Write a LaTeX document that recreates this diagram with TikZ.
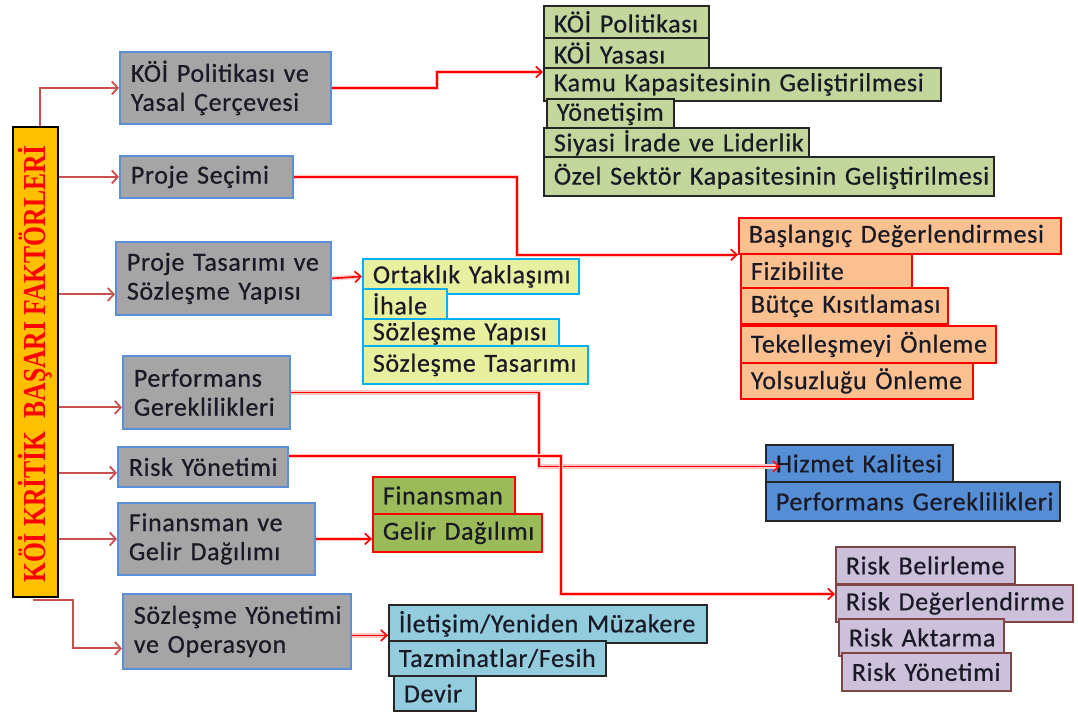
\documentclass[tikz,border=0pt]{standalone}
\usepackage{fontspec}
\setmainfont{Carlito}[FakeBold=0.6, LetterSpace=2.5, WordSpace=0.7]
\newfontfamily\barfont{Liberation Serif}
\usetikzlibrary{arrows.meta}

\definecolor{barfill}{HTML}{FFC000}
\definecolor{grayfill}{HTML}{A5A5A5}
\definecolor{grayedge}{HTML}{5B8FD6}
\definecolor{greenfill}{HTML}{C3D69B}
\definecolor{yellowfill}{HTML}{E8F0A0}
\definecolor{cyanedge}{HTML}{00B0F0}
\definecolor{orangefill}{HTML}{FAC090}
\definecolor{bluefill}{HTML}{558ED5}
\definecolor{olivefill}{HTML}{9BBB59}
\definecolor{purplefill}{HTML}{CCC0DA}
\definecolor{purpleedge}{HTML}{7F4545}
\definecolor{lightblue}{HTML}{93CDDD}
\definecolor{leftline}{HTML}{C8504D}
\definecolor{txt}{HTML}{1A1A26}

\newcommand\boxfont{\fontsize{26}{29}\selectfont}

\begin{document}
\begin{tikzpicture}[x=1pt,y=-1pt,
  box/.style={draw, line width=1.8pt, anchor=north west, inner xsep=10pt,
    inner ysep=0pt, align=left, font=\boxfont, text=txt},
  gb/.style={box, draw=grayedge, fill=grayfill, inner xsep=11pt},
  gl/.style={box, draw=black!85, fill=greenfill},
  yl/.style={box, draw=cyanedge, fill=yellowfill},
  og/.style={box, draw=red, fill=orangefill},
  bl/.style={box, draw=black!85, fill=bluefill},
  ol/.style={box, draw=red, fill=olivefill},
  pu/.style={box, draw=purpleedge, fill=purplefill},
  lb/.style={box, draw=black!85, fill=lightblue},
  lc/.style={draw=leftline, line width=1.9pt,
    -{Straight Barb[length=6pt,width=13pt,line width=1.8pt]}},
  rc/.style={draw=red, line width=1.6pt,
    preaction={draw=red!22, line width=4.5pt},
    -{Straight Barb[length=6pt,width=11pt,line width=1.6pt]}}]

\useasboundingbox (0,0) rectangle (1078,715);

% vertical title bar
\node[draw=black, line width=2.2pt, fill=barfill, anchor=north west,
  minimum width=45pt, minimum height=470pt, inner sep=0pt] (bar) at (12,126) {};
\node[rotate=90, anchor=base, text=red, inner sep=0pt,
  font=\barfont\bfseries\fontsize{32}{32}\selectfont] (bartext) at (45,364)
  {\scalebox{0.8}[1]{KÖİ KRİTİK\ \ BAŞARI FAKTÖRLERİ}};

% main factors
\node[gb, minimum height=72pt, text width=189pt] (p1) at (119,51) {\mbox{KÖİ Politikası ve}\\\mbox{Yasal Çerçevesi}};
\node[gb, minimum height=42pt, text width=151pt] (p2) at (119,155) {\mbox{Proje Seçimi}};
\node[gb, minimum height=73pt, text width=193pt] (p3) at (115,241) {\mbox{Proje Tasarımı ve}\\\mbox{Sözleşme Yapısı}};
\node[gb, minimum height=73pt, text width=145pt] (p4) at (122,355) {\mbox{Performans}\\\mbox{Gereklilikleri}};
\node[gb, minimum height=40pt, text width=148pt] (p5) at (117,446) {\mbox{Risk Yönetimi}};
\node[gb, minimum height=72pt, text width=175pt] (p6) at (117,502) {\mbox{Finansman ve}\\\mbox{Gelir Dağılımı}};
\node[gb, minimum height=75pt, text width=206pt] (p7) at (122,593) {\mbox{Sözleşme Yönetimi}\\\mbox{ve Operasyon}};

% policy and legal framework
\node[gl, minimum height=32pt, text width=145pt] (g1) at (543,5) {\mbox{KÖİ Politikası}};
\node[gl, minimum height=30pt, text width=145pt] (g2) at (543,37) {\mbox{KÖİ Yasası}};
\node[gl, minimum height=33pt, text width=377pt] (g3) at (543,67) {\mbox{Kamu Kapasitesinin Geliştirilmesi}};
\node[gl, minimum height=30pt, text width=107pt] (g4) at (546,98) {\mbox{Yönetişim}};
\node[gl, minimum height=30pt, text width=245pt] (g5) at (543,127) {\mbox{Siyasi İrade ve Liderlik}};
\node[gl, minimum height=39pt, text width=430pt] (g6) at (543,156) {\mbox{Özel Sektör Kapasitesinin Geliştirilmesi}};

% project selection
\node[og, minimum height=36pt, text width=302pt] (o1) at (738,217) {\mbox{Başlangıç Değerlendirmesi}};
\node[og, minimum height=34pt, text width=151pt] (o2) at (740,253) {\mbox{Fizibilite}};
\node[og, minimum height=36pt, text width=187pt] (o3) at (740,287) {\mbox{Bütçe Kısıtlaması}};
\node[og, minimum height=37pt, text width=235pt] (o4) at (740,325) {\mbox{Tekelleşmeyi Önleme}};
\node[og, minimum height=36pt, text width=212pt] (o5) at (740,362) {\mbox{Yolsuzluğu Önleme}};

% project design and contract structure
\node[yl, minimum height=35pt, text width=196pt] (y1) at (362,258) {\mbox{Ortaklık Yaklaşımı}};
\node[yl, minimum height=30pt, text width=64pt] (y2) at (362,288) {\mbox{İhale}};
\node[yl, minimum height=29pt, text width=176pt] (y3) at (362,318) {\mbox{Sözleşme Yapısı}};
\node[yl, minimum height=38pt, text width=205pt] (y4) at (362,345) {\mbox{Sözleşme Tasarımı}};

% performance requirements
\node[bl, minimum height=37pt, text width=167pt] (h1) at (765,444) {\mbox{Hizmet Kalitesi}};
\node[bl, minimum height=39pt, text width=274pt] (h2) at (765,481) {\mbox{Performans Gereklilikleri}};

% financing and revenue
\node[ol, minimum height=37pt, text width=122pt] (f1) at (372,476) {\mbox{Finansman}};
\node[ol, minimum height=38pt, text width=149pt] (f2) at (372,513) {\mbox{Gelir Dağılımı}};

% risk management
\node[pu, minimum height=37pt, text width=159pt] (r1) at (835,546) {\mbox{Risk Belirleme}};
\node[pu, minimum height=37pt, text width=217pt] (r2) at (835,584) {\mbox{Risk Değerlendirme}};
\node[pu, minimum height=37pt, text width=145pt] (r3) at (838,618) {\mbox{Risk Aktarma}};
\node[pu, minimum height=38pt, text width=149pt] (r4) at (841,652) {\mbox{Risk Yönetimi}};

% contract management and operation
\node[lb, minimum height=38pt, text width=298pt] (c1) at (388,604) {\mbox{İletişim/Yeniden Müzakere}};
\node[lb, minimum height=35pt, text width=197pt] (c2) at (388,640) {\mbox{Tazminatlar/Fesih}};
\node[lb, minimum height=35pt, text width=62pt] (c3) at (393,675) {\mbox{Devir}};

% arrow landing points
\coordinate (t3) at ([yshift=-16pt]p3.west);
\coordinate (t4) at ([yshift=-15pt]p4.west);
\coordinate (t5) at ([yshift=-6pt]p5.west);
\coordinate (t7) at ([yshift=-17pt]p7.west);
\coordinate (s5) at ([yshift=11pt]p5.east);
\coordinate (s7) at ([yshift=-4pt]p7.east);

% title bar to main factors
\draw[lc] ([xshift=4pt]bar.north) |- (p1.west);
\draw[lc] (bar.east |- p2.west) -- (p2.west);
\draw[lc] (bar.east |- t3) -- (t3);
\draw[lc] (bar.east |- t4) -- (t4);
\draw[lc] (bar.east |- t5) -- (t5);
\draw[lc] (bar.east |- p6.west) -- (p6.west);
\draw[lc] ([xshift=-3pt,yshift=-2pt]bar.south) -- ++(40,0) |- (t7);

% main factors to their sub-items
\draw[rc] (p1.east) -- ++(105,0) |- ([yshift=-5pt]g3.north west);
\draw[rc] (p2.east) -- ++(223,0) |- (o1.south west);
\draw[rc] (p3.east) -- (y1.west);
\draw[rc] (p4.east) -- ++(248,0) |- ([xshift=15pt,yshift=-3pt]h1.west);
\draw[rc] (s5) -- ++(272,0) |- ([yshift=-10pt]r2.north west);
\draw[rc] (p6.east) -- (f2.west |- p6.east);
\draw[rc] (s7) -- (c1.west |- s7);
\end{tikzpicture}
\end{document}
